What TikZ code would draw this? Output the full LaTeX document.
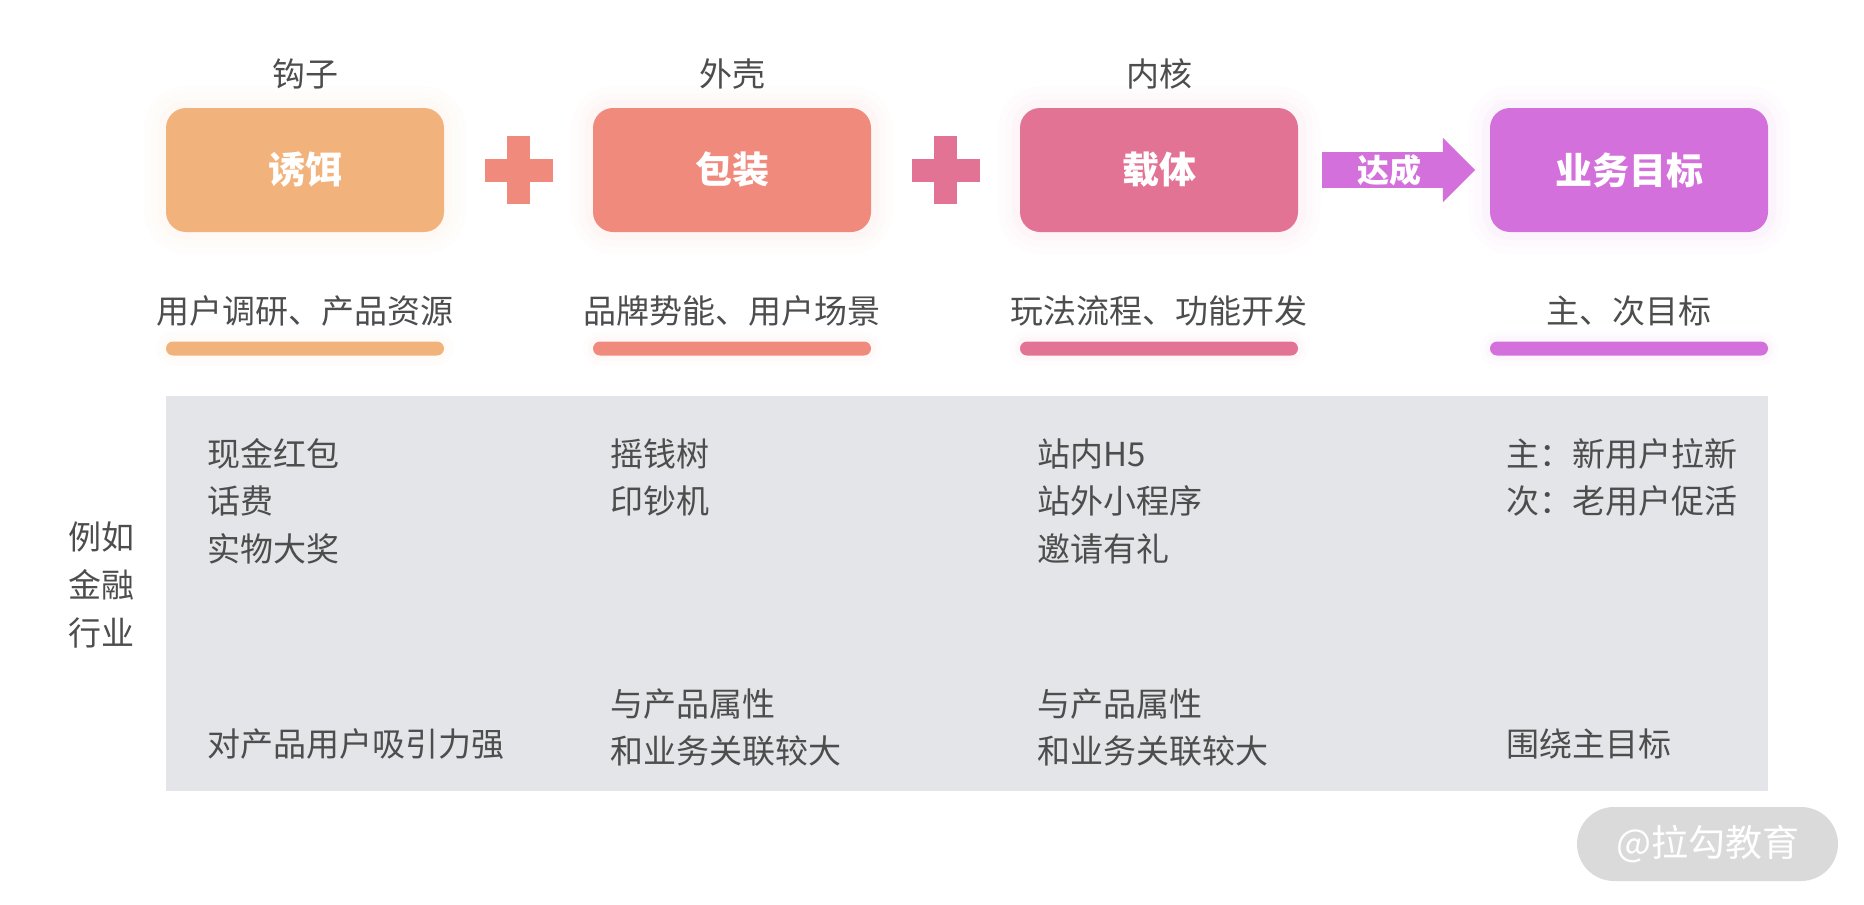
\documentclass[tikz,border=0pt]{standalone}
\usepackage{fontspec}
\setmainfont{Noto Sans CJK SC}
\usetikzlibrary{positioning, calc, shapes.arrows}

\definecolor{baitc}{HTML}{F2B27C}
\definecolor{packc}{HTML}{F08A7C}
\definecolor{corec}{HTML}{E27394}
\definecolor{goalc}{HTML}{D470DB}
\definecolor{panelc}{HTML}{E4E5E9}
\definecolor{textc}{HTML}{4D4D4D}
\definecolor{markc}{HTML}{DADADA}

\begin{document}
\begin{tikzpicture}
  [
    x=1pt, y=1pt,
    on grid,
    node distance=427pt,
    box/.style={fill=#1, rounded corners=20pt, minimum width=278pt, minimum height=124pt, text=white,
      font=\fontsize{37}{40}\selectfont\bfseries,
      preaction={draw=#1, draw opacity=.02, line width=44pt},
      preaction={draw=#1, draw opacity=.025, line width=30pt},
      preaction={draw=#1, draw opacity=.03, line width=16pt}},
    bar/.style={fill=#1, rounded corners=7pt, minimum width=278pt, minimum height=14pt, inner sep=0pt,
      preaction={draw=#1, draw opacity=.025, line width=20pt},
      preaction={draw=#1, draw opacity=.03, line width=10pt}},
    head/.style={text=textc, font=\fontsize{33}{36}\selectfont, inner sep=0pt},
    item/.style={text=textc, font=\fontsize{33}{36}\selectfont, inner sep=0pt, anchor=base west},
    panel/.style={fill=panelc, minimum width=1602pt, minimum height=395pt, inner sep=0pt},
    reach/.style={single arrow, fill=goalc, text=white, font=\fontsize{32}{36}\selectfont\bfseries,
      minimum height=153pt, inner ysep=2pt, single arrow head extend=14.5pt}
  ]
    \useasboundingbox (0,0) rectangle (1864,-905);

    % =========================================================================
    % NODES
    % =========================================================================
    \node [box=baitc] (bait) at (305,-170) {诱饵};
    \node [box=packc, right=of bait] (pack) {包装};
    \node [box=corec, right=of pack] (core) {载体};
    \node [box=goalc, right=470pt of core] (goal) {业务目标};

    \node [head, above=84pt of bait, anchor=base] (hook) {钩子};
    \node [head, above=84pt of pack, anchor=base] (shell) {外壳};
    \node [head, above=84pt of core, anchor=base] (kernel) {内核};

    \node [head, below=153pt of bait, anchor=base] (baitsub) {用户调研、产品资源};
    \node [head, below=153pt of pack, anchor=base] (packsub) {品牌势能、用户场景};
    \node [head, below=153pt of core, anchor=base] (coresub) {玩法流程、功能开发};
    \node [head, below=153pt of goal, anchor=base] (goalsub) {主、次目标};

    \node [bar=baitc, below=178.5pt of bait] (baitbar) {};
    \node [bar=packc, below=178.5pt of pack] (packbar) {};
    \node [bar=corec, below=178.5pt of core] (corebar) {};
    \node [bar=goalc, below=178.5pt of goal] (goalbar) {};

    \node [reach, anchor=tail] (reached) at (1322,-170) {达成};

    \coordinate (plusA) at ($(bait)!0.5!(pack)$);
    \coordinate (plusB) at ($(pack)!0.5!(core)$);

    \node [panel] (panel) at (967,-593.5) {};

    % --- left label ---
    \node [head, anchor=base] (eg1) at (101,-549) {例如};
    \node [head, below=48pt of eg1.base, anchor=base] (eg2) {金融};
    \node [head, below=48pt of eg2.base, anchor=base] (eg3) {行业};

    % --- bait column ---
    \node [item] (cash) at (207,-466) {现金红包};
    \node [item, below=47.5pt of cash.base west, anchor=base west] (fee) {话费};
    \node [item, below=47.5pt of fee.base west, anchor=base west] (prize) {实物大奖};
    \node [item] (attract) at (207,-756) {对产品用户吸引力强};

    % --- pack column ---
    \node [item] (tree) at (610,-466) {摇钱树};
    \node [item, below=47.5pt of tree.base west, anchor=base west] (press) {印钞机};
    \node [item] (packrel1) at (610,-716) {与产品属性};
    \node [item, below=47.5pt of packrel1.base west, anchor=base west] (packrel2) {和业务关联较大};

    % --- core column ---
    \node [item] (inside) at (1037,-466) {站内H5};
    \node [item, below=47.5pt of inside.base west, anchor=base west] (outside) {站外小程序};
    \node [item, below=47.5pt of outside.base west, anchor=base west] (invite) {邀请有礼};
    \node [item] (corerel1) at (1037,-716) {与产品属性};
    \node [item, below=47.5pt of corerel1.base west, anchor=base west] (corerel2) {和业务关联较大};

    % --- goal column ---
    \node [item] (main) at (1506,-466) {主：新用户拉新};
    \node [item, below=47.5pt of main.base west, anchor=base west] (minor) {次：老用户促活};
    \node [item] (around) at (1506,-756) {围绕主目标};

    % --- watermark ---
    \node [fill=markc, rounded corners=37pt, minimum width=261pt, minimum height=74pt, text=white,
      font=\fontsize{37}{40}\selectfont] (mark) at (1707.5,-844) {@拉勾教育};

    % =========================================================================
    % PLUS SIGNS
    % =========================================================================
    \fill [packc] ($(plusA)+(-34,-11.5)$) rectangle ($(plusA)+(34,11.5)$);
    \fill [packc] ($(plusA)+(-11.5,-34)$) rectangle ($(plusA)+(11.5,34)$);
    \fill [corec] ($(plusB)+(-34,-11.5)$) rectangle ($(plusB)+(34,11.5)$);
    \fill [corec] ($(plusB)+(-11.5,-34)$) rectangle ($(plusB)+(11.5,34)$);

\end{tikzpicture}
\end{document}
